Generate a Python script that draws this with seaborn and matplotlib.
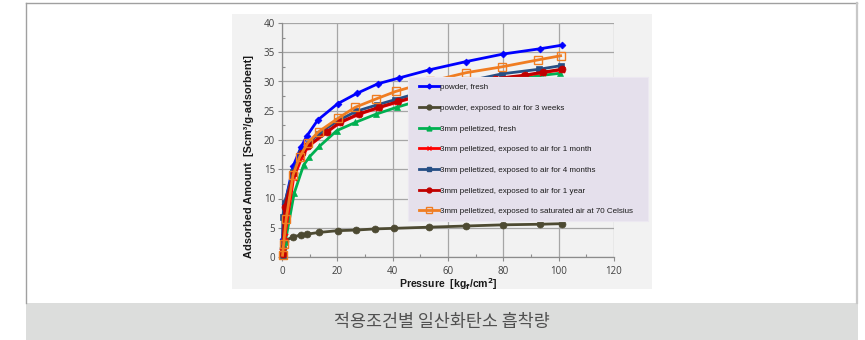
import matplotlib
matplotlib.use("Agg")
import matplotlib.pyplot as plt
from matplotlib.patches import Rectangle
from matplotlib.lines import Line2D
import seaborn as sns
import pandas as pd

# ---------------- data ----------------
labels = [
    "powder, fresh",
    "powder, exposed to air for 3 weeks",
    "3mm pelletized, fresh",
    "3mm pelletized, exposed to air for 1 month",
    "3mm pelletized, exposed to air for 4 months",
    "3mm pelletized, exposed to air for 1 year",
    "3mm pelletized, exposed to saturated air at 70 Celsius",
]

x_powder_fresh = [0.2, 1.0, 4.0, 6.9, 9.0, 12.9, 20.1, 27.2, 34.6, 42.3, 53.3, 66.5, 80.0, 93.3, 101.1]
y_powder_fresh = [3.0, 9.0, 15.5, 18.8, 20.7, 23.4, 26.2, 28.0, 29.6, 30.6, 32.0, 33.4, 34.7, 35.6, 36.2]

x_powder_3w = [0.2, 1.0, 3.9, 6.8, 8.9, 13.4, 20.1, 26.7, 33.6, 40.4, 53.3, 66.5, 80.0, 93.3, 101.1]
y_powder_3w = [1.6, 2.8, 3.4, 3.8, 3.9, 4.2, 4.5, 4.6, 4.8, 4.9, 5.1, 5.3, 5.5, 5.6, 5.7]

x_pellet_fresh = [0.2, 1.2, 4.4, 7.8, 9.9, 13.5, 19.8, 26.5, 33.9, 41.5, 53.0, 66.5, 80.0, 93.0, 100.4]
y_pellet_fresh = [0.3, 2.6, 10.9, 15.7, 17.1, 18.9, 21.6, 23.0, 24.4, 25.6, 27.2, 28.8, 30.0, 31.0, 31.4]

x_pellet_1m = [0.2, 1.0, 4.2, 7.2, 9.5, 16.2, 20.8, 27.9, 35.0, 42.0, 54.0, 66.0, 77.0, 87.8, 94.2, 101.1]
y_pellet_1m = [0.8, 3.4, 13.5, 17.0, 18.9, 21.3, 22.9, 24.4, 25.5, 26.5, 28.1, 29.4, 30.4, 31.0, 31.5, 32.0]

x_pellet_4m = [0.2, 0.3, 1.0, 4.0, 6.9, 9.6, 13.2, 20.2, 26.8, 34.3, 40.9, 53.5, 66.5, 79.4, 93.0, 100.7]
y_pellet_4m = [0.3, 6.9, 9.3, 14.6, 17.8, 19.4, 21.1, 23.3, 24.9, 26.0, 26.9, 28.6, 30.0, 31.3, 32.1, 32.7]

x_pellet_1y = [0.2, 1.0, 4.2, 7.2, 9.5, 16.2, 20.8, 27.9, 35.0, 42.0, 54.0, 66.0, 77.0, 87.8, 94.2, 101.1]
y_pellet_1y = [0.5, 8.6, 14.3, 17.7, 19.0, 21.4, 23.0, 24.5, 25.6, 26.6, 28.2, 29.5, 30.5, 31.1, 31.6, 32.1]

x_pellet_70c = [0.2, 0.6, 1.5, 4.0, 6.4, 9.3, 13.2, 20.2, 26.5, 33.9, 41.1, 53.5, 66.5, 79.4, 92.6, 100.7]
y_pellet_70c = [0.3, 2.3, 6.5, 14.0, 17.1, 19.5, 21.4, 23.7, 25.6, 27.0, 28.3, 30.0, 31.5, 32.5, 33.7, 34.4]

x_ticks = [0, 20, 40, 60, 80, 100, 120]
y_ticks = [0, 5, 10, 15, 20, 25, 30, 35, 40]
x_label = "Pressure  [kg$_\\mathbf{f}$/cm$^\\mathbf{2}$]"
y_label = "Adsorbed Amount  [Scm³/g-adsorbent]"
caption = "적용조건별 일산화탄소 흡착량"

series_x = [x_powder_fresh, x_powder_3w, x_pellet_fresh, x_pellet_1m, x_pellet_4m, x_pellet_1y, x_pellet_70c]
series_y = [y_powder_fresh, y_powder_3w, y_pellet_fresh, y_pellet_1m, y_pellet_4m, y_pellet_1y, y_pellet_70c]

# ---------------- styles ----------------
colors = ["#0000ff", "#4d4a32", "#00b050", "#ff0000", "#264f85", "#c00000", "#f07d22"]
markers = ["D", "o", "^", "x", "s", "o", "s"]
msizes = [3.5, 5, 5, 4, 5, 5, 6]
mfaces = [None, None, None, None, None, None, "none"]

W, H = 865, 340
fig = plt.figure(figsize=(W / 100, H / 100), dpi=100, facecolor="white")

def fx(px):
    return px / W

def fy(py):
    return 1 - py / H

# panel, caption band, chart background (behind the axes)
fig.patches.append(Rectangle((fx(26), fy(303)), fx(858) - fx(26), (303 - 3) / H,
                             transform=fig.transFigure, facecolor="white", edgecolor="none", zorder=-3))
fig.lines.append(Line2D([fx(26), fx(26)], [fy(3), fy(303)], transform=fig.transFigure, color="#a0a0a0", lw=1, zorder=-2))
fig.lines.append(Line2D([fx(26), fx(857)], [fy(3), fy(3)], transform=fig.transFigure, color="#a0a0a0", lw=1, zorder=-2))
fig.lines.append(Line2D([fx(857), fx(857)], [fy(3), fy(303)], transform=fig.transFigure, color="#c8c8c8", lw=1.6, zorder=-2))
fig.patches.append(Rectangle((fx(26), fy(340)), fx(858) - fx(26), 37 / H,
                             transform=fig.transFigure, facecolor="#dcdddc", edgecolor="none", zorder=-3))
fig.patches.append(Rectangle((fx(232), fy(289)), fx(652) - fx(232), (289 - 14) / H,
                             transform=fig.transFigure, facecolor="#f2f2f2", edgecolor="none", zorder=-3))

ax = fig.add_axes([fx(282), fy(257), fx(614) - fx(282), (257 - 23) / H])
ax.set_zorder(1)
ax.patch.set_alpha(0)

for i, (lab, xs, ys) in enumerate(zip(labels, series_x, series_y)):
    df = pd.DataFrame({"x": xs, "y": ys})
    kw = dict(markeredgecolor=colors[i], markersize=msizes[i])
    if mfaces[i] is not None:
        kw["markerfacecolor"] = mfaces[i]
        kw["markeredgewidth"] = 1.0
    else:
        kw["markeredgewidth"] = 1.2 if markers[i] == "x" else 0.5
    sns.lineplot(data=df, x="x", y="y", ax=ax, color=colors[i], marker=markers[i],
                 lw=2.0, sort=False, legend=False, clip_on=False, zorder=3 + i, **kw)

ax.set_xlim(0, 120)
ax.set_ylim(0, 40)
ax.set_xticks(x_ticks)
ax.set_yticks(y_ticks)
ax.set_xticks([10, 30, 50, 70, 90, 110], minor=True)
ax.set_yticks([2.5 + 5 * k for k in range(8)], minor=True)
ax.grid(True, which="major", color="#a6a6a6", lw=0.9, zorder=0)
ax.set_axisbelow(True)
for s in ["top", "right"]:
    ax.spines[s].set_visible(False)
for s in ["left", "bottom"]:
    ax.spines[s].set_color("#8c8c8c")
    ax.spines[s].set_linewidth(0.9)
ax.tick_params(which="major", direction="out", length=3, width=0.8, color="#8c8c8c",
               labelsize=7, labelcolor="#404040", pad=2)
ax.tick_params(which="minor", direction="in", length=2.5, width=0.8, color="#8c8c8c")
for t in ax.get_xticklabels() + ax.get_yticklabels():
    t.set_family("Open Sans")
ax.tick_params(axis="x", pad=3.5)

ax.set_xlabel(x_label, fontsize=7.6, fontweight="bold", color="#1a1a1a", family="Liberation Sans")
ax.set_ylabel(y_label, fontsize=7.9, fontweight="bold", color="#1a1a1a", family="Liberation Sans")
ax.xaxis.set_label_coords(0.5, (257 - 276.5) / 234)
ax.yaxis.set_label_coords((254 - 282) / 332, (257 - 157) / 234)

# legend with custom background
bg = Rectangle((fx(408), fy(221)), fx(648) - fx(408), (221 - 77) / H, transform=fig.transFigure,
               facecolor="#e5e0ec", edgecolor="#ece8f1", lw=0.8, zorder=20, clip_on=False)
ax.add_artist(bg)
handles = []
for i, lab in enumerate(labels):
    h = Line2D([], [], color=colors[i], lw=2.0, marker=markers[i], markersize=msizes[i] * 0.7,
               markeredgecolor=colors[i], markerfacecolor=(mfaces[i] if mfaces[i] else colors[i]))
    handles.append(h)
leg = ax.legend(handles, labels, loc="upper left", bbox_to_anchor=(fx(419), fy(83.5)),
                bbox_transform=fig.transFigure, frameon=False, borderpad=0, borderaxespad=0,
                handlelength=2.5, handletextpad=0.1, labelspacing=1.62, numpoints=1,
                prop={"family": "Liberation Sans", "size": 5.8})
leg.set_zorder(21)
for t in leg.get_texts():
    t.set_color("#1a1a1a")

fig.text(fx(442), fy(322), caption, ha="center", va="center", fontsize=12.5,
         family=["Noto Sans CJK KR", "DejaVu Sans"], color="#505050")

fig.savefig("out.png", dpi=100, facecolor="white")
